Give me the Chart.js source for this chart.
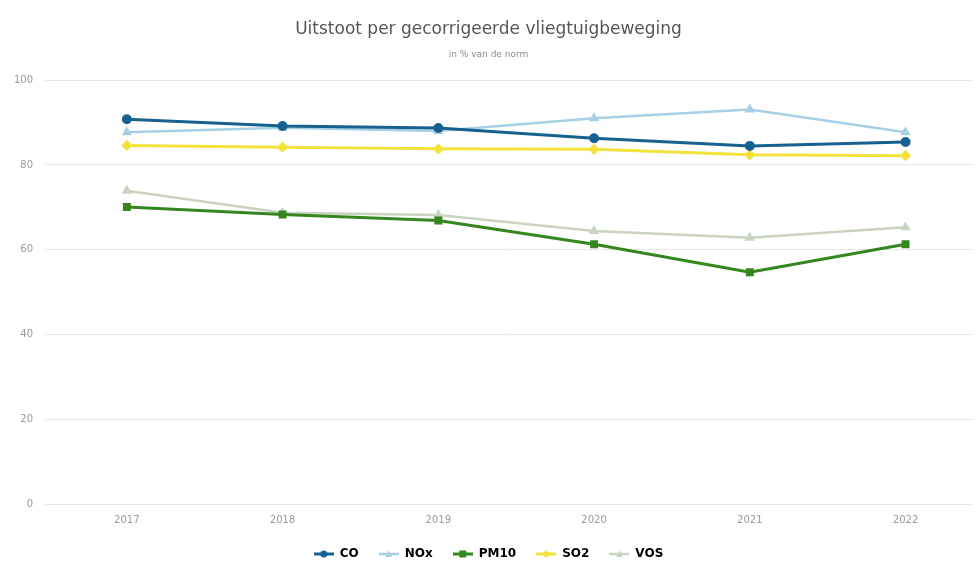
<!DOCTYPE html>
<html>
<head>
<meta charset="utf-8">
<script src="https://cdn.jsdelivr.net/npm/chart.js@4"></script>
<style>
html,body{margin:0;padding:0;background:#fff;}
#wrap{width:979px;height:562px;}
</style>
</head>
<body>
<div id="wrap"><canvas id="c" width="979" height="562"></canvas></div>
<script>
const years = [2017, 2018, 2019, 2020, 2021, 2022];
const co   = [90.8, 89.2, 88.7, 86.3, 84.5, 85.4];
const nox  = [87.7, 88.8, 88.0, 91.0, 93.1, 87.7];
const pm10 = [70.1, 68.3, 66.9, 61.3, 54.7, 61.3];
const so2  = [84.6, 84.2, 83.8, 83.7, 82.4, 82.2];
const vos  = [73.9, 68.7, 68.2, 64.4, 62.8, 65.3];
const yTicks = [0, 20, 40, 60, 80, 100];

const seriesNames = ['CO', 'NOx', 'PM10', 'SO2', 'VOS'];
const seriesValues = [co, nox, pm10, so2, vos];
const colors = ['#17608f', '#a7cfe6', '#35861f', '#f2e23a', '#c9d4c0'];
const markers = ['circle', 'triangle', 'rect', 'rectRot', 'triangle'];
const widths = [3, 2.5, 3, 3, 2.5];

function legendIcon(color, style, lw) {
  const cv = document.createElement('canvas');
  cv.width = 20; cv.height = 10;
  const g = cv.getContext('2d');
  g.strokeStyle = color; g.fillStyle = color; g.lineWidth = lw;
  g.beginPath(); g.moveTo(0, 5); g.lineTo(20, 5); g.stroke();
  g.beginPath();
  if (style === 'circle') { g.arc(10, 5, 3.5, 0, Math.PI * 2); }
  else if (style === 'rect') { g.rect(6.5, 1.5, 7, 7); }
  else if (style === 'rectRot') { g.moveTo(10, 1); g.lineTo(14, 5); g.lineTo(10, 9); g.lineTo(6, 5); g.closePath(); }
  else { g.moveTo(10, 1.5); g.lineTo(13.5, 8); g.lineTo(6.5, 8); g.closePath(); }
  g.fill();
  return cv;
}

const datasets = seriesNames.map((n, i) => ({
  label: n,
  data: years.map((y, k) => ({ x: y, y: seriesValues[i][k] })),
  borderColor: colors[i],
  backgroundColor: colors[i],
  borderWidth: widths[i],
  pointStyle: markers[i],
  pointRadius: 3.5,
  pointHoverRadius: 3.5,
  tension: 0
}));

Chart.defaults.font.family = '"DejaVu Sans", sans-serif';

new Chart(document.getElementById('c'), {
  type: 'line',
  data: { datasets },
  options: {
    responsive: false,
    animation: false,
    layout: { padding: { left: 2, right: 4, top: 5, bottom: -8 } },
    scales: {
      x: {
        type: 'linear',
        min: 2016.475,
        max: 2022.43,
        afterBuildTicks: (s) => { s.ticks = years.map(v => ({ value: v })); },
        grid: { display: false },
        border: { display: false },
        ticks: { color: '#9a9a9a', font: { size: 10 }, padding: 2, callback: v => String(v) }
      },
      y: {
        min: 0, max: 100,
        afterBuildTicks: (s) => { s.ticks = yTicks.map(v => ({ value: v })); },
        grid: { color: '#e8e8e8', lineWidth: 1, drawTicks: false },
        border: { display: false },
        ticks: { color: '#9a9a9a', font: { size: 10 }, padding: 12 }
      }
    },
    plugins: {
      title: {
        display: true,
        text: 'Uitstoot per gecorrigeerde vliegtuigbeweging',
        color: '#555',
        font: { size: 17, weight: 'normal' },
        padding: { top: 14, bottom: 10 }
      },
      subtitle: {
        display: true,
        text: 'in % van de norm',
        color: '#8a8a8a',
        font: { size: 9 },
        padding: { bottom: 20 }
      },
      legend: {
        position: 'bottom',
        labels: {
          color: '#3a3a3a',
          font: { size: 12, weight: 'bold' },
          usePointStyle: true,
          pointStyleWidth: 20,
          boxWidth: 20,
          padding: 20,
          generateLabels: (chart) => chart.data.datasets.map((d, i) => ({
            text: d.label,
            pointStyle: legendIcon(colors[i], markers[i], widths[i]),
            fillStyle: colors[i],
            strokeStyle: colors[i],
            lineWidth: 0,
            datasetIndex: i,
            hidden: false
          }))
        }
      },
      tooltip: { enabled: false }
    }
  }
});
</script>
</body>
</html>
